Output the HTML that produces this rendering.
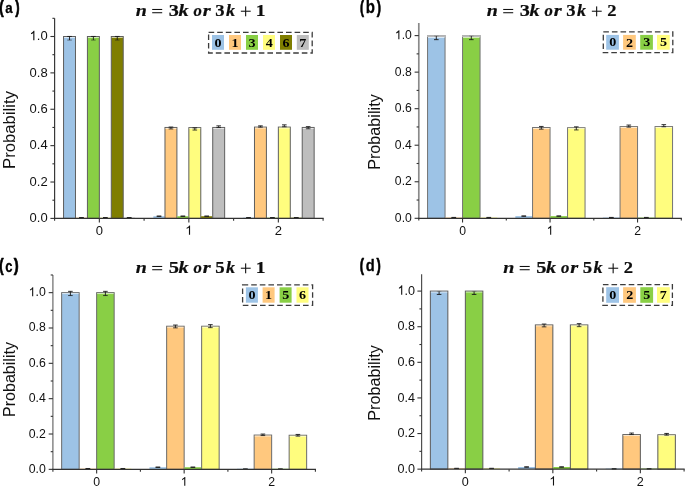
<!DOCTYPE html>
<html><head><meta charset="utf-8"><style>
html,body{margin:0;padding:0;background:#fff;}
body{width:685px;height:487px;overflow:hidden;}
svg{display:block;}
</style></head><body>
<svg width="685" height="487" viewBox="0 0 685 487">
<rect width="685" height="487" fill="#fff"/>
<rect x="63.55" y="36.5" width="11.93" height="181.9" fill="#9DC3E6" stroke="#5e5e5e" stroke-width="1"/>
<rect x="64.05" y="37" width="10.93" height="0.9" fill="#fff" fill-opacity="0.7"/>
<path d="M69.52 36.45V40.05" stroke="#1a1a1a" stroke-width="0.9" fill="none"/>
<path d="M67.22 36.45H71.82" stroke="#1a1a1a" stroke-opacity="1.0" stroke-width="0.9" fill="none"/>
<path d="M67.22 40.05H71.82" stroke="#1a1a1a" stroke-opacity="0.6" stroke-width="0.9" fill="none"/>
<rect x="75.78" y="217.67" width="11.33" height="0.73" fill="#FFC87E"/>
<path d="M81.45 217.52V217.82" stroke="#1a1a1a" stroke-width="0.9" fill="none"/>
<path d="M79.15 217.52H83.75" stroke="#1a1a1a" stroke-opacity="1.0" stroke-width="0.9" fill="none"/>
<path d="M79.15 217.82H83.75" stroke="#1a1a1a" stroke-opacity="1.0" stroke-width="0.9" fill="none"/>
<rect x="87.42" y="36.5" width="11.93" height="181.9" fill="#89CF45" stroke="#5e5e5e" stroke-width="1"/>
<rect x="87.92" y="37" width="10.93" height="0.9" fill="#fff" fill-opacity="0.7"/>
<path d="M93.38 36.45V40.05" stroke="#1a1a1a" stroke-width="0.9" fill="none"/>
<path d="M91.08 36.45H95.68" stroke="#1a1a1a" stroke-opacity="1.0" stroke-width="0.9" fill="none"/>
<path d="M91.08 40.05H95.68" stroke="#1a1a1a" stroke-opacity="0.6" stroke-width="0.9" fill="none"/>
<rect x="99.65" y="217.67" width="11.33" height="0.73" fill="#FFFD7E"/>
<path d="M105.32 217.52V217.82" stroke="#1a1a1a" stroke-width="0.9" fill="none"/>
<path d="M103.02 217.52H107.62" stroke="#1a1a1a" stroke-opacity="1.0" stroke-width="0.9" fill="none"/>
<path d="M103.02 217.82H107.62" stroke="#1a1a1a" stroke-opacity="1.0" stroke-width="0.9" fill="none"/>
<rect x="111.28" y="36.5" width="11.93" height="181.9" fill="#7F7E00" stroke="#5e5e5e" stroke-width="1"/>
<rect x="111.78" y="37" width="10.93" height="0.9" fill="#fff" fill-opacity="0.7"/>
<path d="M117.25 36.45V40.05" stroke="#1a1a1a" stroke-width="0.9" fill="none"/>
<path d="M114.95 36.45H119.55" stroke="#1a1a1a" stroke-opacity="1.0" stroke-width="0.9" fill="none"/>
<path d="M114.95 40.05H119.55" stroke="#1a1a1a" stroke-opacity="0.6" stroke-width="0.9" fill="none"/>
<rect x="123.52" y="217.67" width="11.33" height="0.73" fill="#BEBEBE"/>
<path d="M129.18 217.52V217.82" stroke="#1a1a1a" stroke-width="0.9" fill="none"/>
<path d="M126.88 217.52H131.48" stroke="#1a1a1a" stroke-opacity="1.0" stroke-width="0.9" fill="none"/>
<path d="M126.88 217.82H131.48" stroke="#1a1a1a" stroke-opacity="1.0" stroke-width="0.9" fill="none"/>
<rect x="153.35" y="216.22" width="11.33" height="2.18" fill="#9DC3E6"/>
<path d="M159.02 216.07V216.37" stroke="#1a1a1a" stroke-width="0.9" fill="none"/>
<path d="M156.72 216.07H161.32" stroke="#1a1a1a" stroke-opacity="1.0" stroke-width="0.9" fill="none"/>
<path d="M156.72 216.37H161.32" stroke="#1a1a1a" stroke-opacity="1.0" stroke-width="0.9" fill="none"/>
<rect x="164.98" y="127.45" width="11.93" height="90.95" fill="#FFC87E" stroke="#5e5e5e" stroke-width="1"/>
<rect x="165.48" y="127.95" width="10.93" height="0.9" fill="#fff" fill-opacity="0.7"/>
<path d="M170.95 127.05V128.95" stroke="#1a1a1a" stroke-width="0.9" fill="none"/>
<path d="M168.65 127.05H173.25" stroke="#1a1a1a" stroke-opacity="1.0" stroke-width="0.9" fill="none"/>
<path d="M168.65 128.95H173.25" stroke="#1a1a1a" stroke-opacity="0.9" stroke-width="0.9" fill="none"/>
<rect x="177.22" y="216.22" width="11.33" height="2.18" fill="#89CF45"/>
<path d="M182.88 216.07V216.37" stroke="#1a1a1a" stroke-width="0.9" fill="none"/>
<path d="M180.58 216.07H185.18" stroke="#1a1a1a" stroke-opacity="1.0" stroke-width="0.9" fill="none"/>
<path d="M180.58 216.37H185.18" stroke="#1a1a1a" stroke-opacity="1.0" stroke-width="0.9" fill="none"/>
<rect x="188.85" y="127.63" width="11.93" height="90.77" fill="#FFFD7E" stroke="#5e5e5e" stroke-width="1"/>
<rect x="189.35" y="128.13" width="10.93" height="0.9" fill="#fff" fill-opacity="0.7"/>
<path d="M194.82 127.85V130.05" stroke="#1a1a1a" stroke-width="0.9" fill="none"/>
<path d="M192.52 127.85H197.12" stroke="#1a1a1a" stroke-opacity="1.0" stroke-width="0.9" fill="none"/>
<path d="M192.52 130.05H197.12" stroke="#1a1a1a" stroke-opacity="0.9" stroke-width="0.9" fill="none"/>
<rect x="201.08" y="216.22" width="11.33" height="2.18" fill="#7F7E00"/>
<path d="M206.75 216.07V216.37" stroke="#1a1a1a" stroke-width="0.9" fill="none"/>
<path d="M204.45 216.07H209.05" stroke="#1a1a1a" stroke-opacity="1.0" stroke-width="0.9" fill="none"/>
<path d="M204.45 216.37H209.05" stroke="#1a1a1a" stroke-opacity="1.0" stroke-width="0.9" fill="none"/>
<rect x="212.72" y="127.45" width="11.93" height="90.95" fill="#BEBEBE" stroke="#5e5e5e" stroke-width="1"/>
<rect x="213.22" y="127.95" width="10.93" height="0.9" fill="#fff" fill-opacity="0.7"/>
<path d="M218.68 125.85V127.55" stroke="#1a1a1a" stroke-width="0.9" fill="none"/>
<path d="M216.38 125.85H220.98" stroke="#1a1a1a" stroke-opacity="1.0" stroke-width="0.9" fill="none"/>
<path d="M216.38 127.55H220.98" stroke="#1a1a1a" stroke-opacity="0.9" stroke-width="0.9" fill="none"/>
<rect x="242.85" y="217.67" width="11.33" height="0.73" fill="#9DC3E6"/>
<path d="M248.52 217.52V217.82" stroke="#1a1a1a" stroke-width="0.9" fill="none"/>
<path d="M246.22 217.52H250.82" stroke="#1a1a1a" stroke-opacity="1.0" stroke-width="0.9" fill="none"/>
<path d="M246.22 217.82H250.82" stroke="#1a1a1a" stroke-opacity="1.0" stroke-width="0.9" fill="none"/>
<rect x="254.48" y="127.09" width="11.93" height="91.31" fill="#FFC87E" stroke="#5e5e5e" stroke-width="1"/>
<rect x="254.98" y="127.59" width="10.93" height="0.9" fill="#fff" fill-opacity="0.7"/>
<path d="M260.45 125.85V127.15" stroke="#1a1a1a" stroke-width="0.9" fill="none"/>
<path d="M258.15 125.85H262.75" stroke="#1a1a1a" stroke-opacity="1.0" stroke-width="0.9" fill="none"/>
<path d="M258.15 127.15H262.75" stroke="#1a1a1a" stroke-opacity="0.9" stroke-width="0.9" fill="none"/>
<rect x="266.72" y="217.67" width="11.33" height="0.73" fill="#89CF45"/>
<path d="M272.38 217.52V217.82" stroke="#1a1a1a" stroke-width="0.9" fill="none"/>
<path d="M270.08 217.52H274.68" stroke="#1a1a1a" stroke-opacity="1.0" stroke-width="0.9" fill="none"/>
<path d="M270.08 217.82H274.68" stroke="#1a1a1a" stroke-opacity="1.0" stroke-width="0.9" fill="none"/>
<rect x="278.35" y="127.09" width="11.93" height="91.31" fill="#FFFD7E" stroke="#5e5e5e" stroke-width="1"/>
<rect x="278.85" y="127.59" width="10.93" height="0.9" fill="#fff" fill-opacity="0.7"/>
<path d="M284.32 124.85V126.75" stroke="#1a1a1a" stroke-width="0.9" fill="none"/>
<path d="M282.02 124.85H286.62" stroke="#1a1a1a" stroke-opacity="1.0" stroke-width="0.9" fill="none"/>
<path d="M282.02 126.75H286.62" stroke="#1a1a1a" stroke-opacity="0.9" stroke-width="0.9" fill="none"/>
<rect x="290.58" y="217.67" width="11.33" height="0.73" fill="#7F7E00"/>
<path d="M296.25 217.52V217.82" stroke="#1a1a1a" stroke-width="0.9" fill="none"/>
<path d="M293.95 217.52H298.55" stroke="#1a1a1a" stroke-opacity="1.0" stroke-width="0.9" fill="none"/>
<path d="M293.95 217.82H298.55" stroke="#1a1a1a" stroke-opacity="1.0" stroke-width="0.9" fill="none"/>
<rect x="302.22" y="127.45" width="11.93" height="90.95" fill="#BEBEBE" stroke="#5e5e5e" stroke-width="1"/>
<rect x="302.72" y="127.95" width="10.93" height="0.9" fill="#fff" fill-opacity="0.7"/>
<path d="M308.18 126.65V128.75" stroke="#1a1a1a" stroke-width="0.9" fill="none"/>
<path d="M305.88 126.65H310.48" stroke="#1a1a1a" stroke-opacity="1.0" stroke-width="0.9" fill="none"/>
<path d="M305.88 128.75H310.48" stroke="#1a1a1a" stroke-opacity="0.9" stroke-width="0.9" fill="none"/>
<path d="M54.6 18.2V218.4" stroke="#383838" stroke-width="1.2" fill="none"/>
<path d="M54 218.4H323.7" stroke="#333" stroke-width="1.2" fill="none"/>
<path d="M50.4 218.4H54.6" stroke="#333" stroke-width="1.1"/>
<path d="M52.4 200.21H54.6" stroke="#333" stroke-width="1.1"/>
<path d="M50.4 182.02H54.6" stroke="#333" stroke-width="1.1"/>
<path d="M52.4 163.83H54.6" stroke="#333" stroke-width="1.1"/>
<path d="M50.4 145.64H54.6" stroke="#333" stroke-width="1.1"/>
<path d="M52.4 127.45H54.6" stroke="#333" stroke-width="1.1"/>
<path d="M50.4 109.26H54.6" stroke="#333" stroke-width="1.1"/>
<path d="M52.4 91.07H54.6" stroke="#333" stroke-width="1.1"/>
<path d="M50.4 72.88H54.6" stroke="#333" stroke-width="1.1"/>
<path d="M52.4 54.69H54.6" stroke="#333" stroke-width="1.1"/>
<path d="M50.4 36.5H54.6" stroke="#333" stroke-width="1.1"/>
<path d="M52.4 18.31H54.6" stroke="#333" stroke-width="1.1"/>
<path d="M99.35 218.4V222.6" stroke="#333" stroke-width="1.1"/>
<path d="M188.85 218.4V222.6" stroke="#333" stroke-width="1.1"/>
<path d="M278.35 218.4V222.6" stroke="#333" stroke-width="1.1"/>
<path d="M54.6 218.4V220.7" stroke="#333" stroke-width="1.1"/>
<path d="M144.1 218.4V220.7" stroke="#333" stroke-width="1.1"/>
<path d="M233.6 218.4V220.7" stroke="#333" stroke-width="1.1"/>
<path d="M323.1 218.4V220.7" stroke="#333" stroke-width="1.1"/>
<rect x="208.6" y="32.4" width="103.6" height="20.6" fill="none" stroke="#3c3c3c" stroke-width="1.3" stroke-dasharray="5.6 3"/>
<rect x="212" y="35" width="12" height="14.8" fill="#9DC3E6"/>
<rect x="229" y="35" width="12" height="14.8" fill="#FFC87E"/>
<rect x="246" y="35" width="12" height="14.8" fill="#89CF45"/>
<rect x="263" y="35" width="12" height="14.8" fill="#FFFD7E"/>
<rect x="280" y="35" width="12" height="14.8" fill="#7F7E00"/>
<rect x="296.8" y="35" width="12" height="14.8" fill="#BEBEBE"/>
<rect x="427.55" y="35.6" width="17.5" height="182.7" fill="#9DC3E6" stroke="#747474" stroke-width="1"/>
<rect x="427.05" y="35.1" width="18.5" height="1.9" fill="#b9b9b9"/>
<rect x="428.05" y="37" width="16.5" height="0.9" fill="#fff" fill-opacity="0.7"/>
<path d="M436.3 36.05V39.65" stroke="#1a1a1a" stroke-width="0.9" fill="none"/>
<path d="M434 36.05H438.6" stroke="#1a1a1a" stroke-opacity="0.25" stroke-width="0.9" fill="none"/>
<path d="M434 39.65H438.6" stroke="#1a1a1a" stroke-opacity="1.0" stroke-width="0.9" fill="none"/>
<rect x="445.35" y="217.57" width="16.9" height="0.73" fill="#FFC87E"/>
<path d="M453.8 217.42V217.72" stroke="#1a1a1a" stroke-width="0.9" fill="none"/>
<path d="M451.5 217.42H456.1" stroke="#1a1a1a" stroke-opacity="1.0" stroke-width="0.9" fill="none"/>
<path d="M451.5 217.72H456.1" stroke="#1a1a1a" stroke-opacity="1.0" stroke-width="0.9" fill="none"/>
<rect x="462.55" y="35.6" width="17.5" height="182.7" fill="#89CF45" stroke="#747474" stroke-width="1"/>
<rect x="462.05" y="35.1" width="18.5" height="1.9" fill="#b9b9b9"/>
<rect x="463.05" y="37" width="16.5" height="0.9" fill="#fff" fill-opacity="0.7"/>
<path d="M471.3 36.05V39.65" stroke="#1a1a1a" stroke-width="0.9" fill="none"/>
<path d="M469 36.05H473.6" stroke="#1a1a1a" stroke-opacity="0.25" stroke-width="0.9" fill="none"/>
<path d="M469 39.65H473.6" stroke="#1a1a1a" stroke-opacity="1.0" stroke-width="0.9" fill="none"/>
<rect x="480.35" y="217.57" width="16.9" height="0.73" fill="#FFFD7E"/>
<path d="M488.8 217.42V217.72" stroke="#1a1a1a" stroke-width="0.9" fill="none"/>
<path d="M486.5 217.42H491.1" stroke="#1a1a1a" stroke-opacity="1.0" stroke-width="0.9" fill="none"/>
<path d="M486.5 217.72H491.1" stroke="#1a1a1a" stroke-opacity="1.0" stroke-width="0.9" fill="none"/>
<rect x="515.35" y="216.11" width="16.9" height="2.19" fill="#9DC3E6"/>
<path d="M523.8 215.96V216.26" stroke="#1a1a1a" stroke-width="0.9" fill="none"/>
<path d="M521.5 215.96H526.1" stroke="#1a1a1a" stroke-opacity="1.0" stroke-width="0.9" fill="none"/>
<path d="M521.5 216.26H526.1" stroke="#1a1a1a" stroke-opacity="1.0" stroke-width="0.9" fill="none"/>
<rect x="532.55" y="127.5" width="17.5" height="90.8" fill="#FFC87E" stroke="#747474" stroke-width="1"/>
<rect x="533.05" y="128" width="16.5" height="0.9" fill="#fff" fill-opacity="0.7"/>
<path d="M541.3 126.45V129.15" stroke="#1a1a1a" stroke-width="0.9" fill="none"/>
<path d="M539 126.45H543.6" stroke="#1a1a1a" stroke-opacity="1.0" stroke-width="0.9" fill="none"/>
<path d="M539 129.15H543.6" stroke="#1a1a1a" stroke-opacity="0.9" stroke-width="0.9" fill="none"/>
<rect x="550.35" y="216.11" width="16.9" height="2.19" fill="#89CF45"/>
<path d="M558.8 215.96V216.26" stroke="#1a1a1a" stroke-width="0.9" fill="none"/>
<path d="M556.5 215.96H561.1" stroke="#1a1a1a" stroke-opacity="1.0" stroke-width="0.9" fill="none"/>
<path d="M556.5 216.26H561.1" stroke="#1a1a1a" stroke-opacity="1.0" stroke-width="0.9" fill="none"/>
<rect x="567.55" y="127.68" width="17.5" height="90.62" fill="#FFFD7E" stroke="#747474" stroke-width="1"/>
<rect x="568.05" y="128.18" width="16.5" height="0.9" fill="#fff" fill-opacity="0.7"/>
<path d="M576.3 126.85V129.95" stroke="#1a1a1a" stroke-width="0.9" fill="none"/>
<path d="M574 126.85H578.6" stroke="#1a1a1a" stroke-opacity="1.0" stroke-width="0.9" fill="none"/>
<path d="M574 129.95H578.6" stroke="#1a1a1a" stroke-opacity="0.9" stroke-width="0.9" fill="none"/>
<rect x="602.85" y="217.57" width="16.9" height="0.73" fill="#9DC3E6"/>
<path d="M611.3 217.42V217.72" stroke="#1a1a1a" stroke-width="0.9" fill="none"/>
<path d="M609 217.42H613.6" stroke="#1a1a1a" stroke-opacity="1.0" stroke-width="0.9" fill="none"/>
<path d="M609 217.72H613.6" stroke="#1a1a1a" stroke-opacity="1.0" stroke-width="0.9" fill="none"/>
<rect x="620.05" y="126.58" width="17.5" height="91.72" fill="#FFC87E" stroke="#747474" stroke-width="1"/>
<rect x="620.55" y="127.08" width="16.5" height="0.9" fill="#fff" fill-opacity="0.7"/>
<path d="M628.8 125.05V127.15" stroke="#1a1a1a" stroke-width="0.9" fill="none"/>
<path d="M626.5 125.05H631.1" stroke="#1a1a1a" stroke-opacity="1.0" stroke-width="0.9" fill="none"/>
<path d="M626.5 127.15H631.1" stroke="#1a1a1a" stroke-opacity="0.9" stroke-width="0.9" fill="none"/>
<rect x="637.85" y="217.57" width="16.9" height="0.73" fill="#89CF45"/>
<path d="M646.3 217.42V217.72" stroke="#1a1a1a" stroke-width="0.9" fill="none"/>
<path d="M644 217.42H648.6" stroke="#1a1a1a" stroke-opacity="1.0" stroke-width="0.9" fill="none"/>
<path d="M644 217.72H648.6" stroke="#1a1a1a" stroke-opacity="1.0" stroke-width="0.9" fill="none"/>
<rect x="655.05" y="126.58" width="17.5" height="91.72" fill="#FFFD7E" stroke="#747474" stroke-width="1"/>
<rect x="655.55" y="127.08" width="16.5" height="0.9" fill="#fff" fill-opacity="0.7"/>
<path d="M663.8 124.65V126.75" stroke="#1a1a1a" stroke-width="0.9" fill="none"/>
<path d="M661.5 124.65H666.1" stroke="#1a1a1a" stroke-opacity="1.0" stroke-width="0.9" fill="none"/>
<path d="M661.5 126.75H666.1" stroke="#1a1a1a" stroke-opacity="0.9" stroke-width="0.9" fill="none"/>
<path d="M418.8 23V218.3" stroke="#8a8a8a" stroke-width="1.7" fill="none"/>
<path d="M418.2 218.3H681.9" stroke="#333" stroke-width="1.2" fill="none"/>
<path d="M414.6 218.3H418.8" stroke="#333" stroke-width="1.1"/>
<path d="M416.6 200.03H418.8" stroke="#333" stroke-width="1.1"/>
<path d="M414.6 181.76H418.8" stroke="#333" stroke-width="1.1"/>
<path d="M416.6 163.49H418.8" stroke="#333" stroke-width="1.1"/>
<path d="M414.6 145.22H418.8" stroke="#333" stroke-width="1.1"/>
<path d="M416.6 126.95H418.8" stroke="#333" stroke-width="1.1"/>
<path d="M414.6 108.68H418.8" stroke="#333" stroke-width="1.1"/>
<path d="M416.6 90.41H418.8" stroke="#333" stroke-width="1.1"/>
<path d="M414.6 72.14H418.8" stroke="#333" stroke-width="1.1"/>
<path d="M416.6 53.87H418.8" stroke="#333" stroke-width="1.1"/>
<path d="M414.6 35.6H418.8" stroke="#333" stroke-width="1.1"/>
<path d="M462.55 218.3V222.5" stroke="#333" stroke-width="1.1"/>
<path d="M550.05 218.3V222.5" stroke="#333" stroke-width="1.1"/>
<path d="M637.55 218.3V222.5" stroke="#333" stroke-width="1.1"/>
<path d="M418.8 218.3V220.6" stroke="#333" stroke-width="1.1"/>
<path d="M506.3 218.3V220.6" stroke="#333" stroke-width="1.1"/>
<path d="M593.8 218.3V220.6" stroke="#333" stroke-width="1.1"/>
<path d="M681.3 218.3V220.6" stroke="#333" stroke-width="1.1"/>
<rect x="603.3" y="31.8" width="69.5" height="20.8" fill="none" stroke="#3c3c3c" stroke-width="1.3" stroke-dasharray="5.6 3"/>
<rect x="606.2" y="34.9" width="12.7" height="14.8" fill="#9DC3E6"/>
<rect x="623.1" y="34.9" width="12.7" height="14.8" fill="#FFC87E"/>
<rect x="640.2" y="34.9" width="12.7" height="14.8" fill="#89CF45"/>
<rect x="657" y="34.9" width="12.7" height="14.8" fill="#FFFD7E"/>
<rect x="61.65" y="292.65" width="17.5" height="176.7" fill="#9DC3E6" stroke="#6a6a6a" stroke-width="1"/>
<rect x="62.15" y="293.15" width="16.5" height="0.9" fill="#fff" fill-opacity="0.7"/>
<path d="M70.4 291.35V295.55" stroke="#1a1a1a" stroke-width="0.9" fill="none"/>
<path d="M68.1 291.35H72.7" stroke="#1a1a1a" stroke-opacity="1.0" stroke-width="0.9" fill="none"/>
<path d="M68.1 295.55H72.7" stroke="#1a1a1a" stroke-opacity="0.9" stroke-width="0.9" fill="none"/>
<rect x="79.45" y="468.64" width="16.9" height="0.71" fill="#FFC87E"/>
<path d="M87.9 468.49V468.79" stroke="#1a1a1a" stroke-width="0.9" fill="none"/>
<path d="M85.6 468.49H90.2" stroke="#1a1a1a" stroke-opacity="1.0" stroke-width="0.9" fill="none"/>
<path d="M85.6 468.79H90.2" stroke="#1a1a1a" stroke-opacity="1.0" stroke-width="0.9" fill="none"/>
<rect x="96.65" y="292.65" width="17.5" height="176.7" fill="#89CF45" stroke="#6a6a6a" stroke-width="1"/>
<rect x="97.15" y="293.15" width="16.5" height="0.9" fill="#fff" fill-opacity="0.7"/>
<path d="M105.4 291.35V295.55" stroke="#1a1a1a" stroke-width="0.9" fill="none"/>
<path d="M103.1 291.35H107.7" stroke="#1a1a1a" stroke-opacity="1.0" stroke-width="0.9" fill="none"/>
<path d="M103.1 295.55H107.7" stroke="#1a1a1a" stroke-opacity="0.9" stroke-width="0.9" fill="none"/>
<rect x="114.45" y="468.64" width="16.9" height="0.71" fill="#FFFD7E"/>
<path d="M122.9 468.49V468.79" stroke="#1a1a1a" stroke-width="0.9" fill="none"/>
<path d="M120.6 468.49H125.2" stroke="#1a1a1a" stroke-opacity="1.0" stroke-width="0.9" fill="none"/>
<path d="M120.6 468.79H125.2" stroke="#1a1a1a" stroke-opacity="1.0" stroke-width="0.9" fill="none"/>
<rect x="149.45" y="467.23" width="16.9" height="2.12" fill="#9DC3E6"/>
<path d="M157.9 467.08V467.38" stroke="#1a1a1a" stroke-width="0.9" fill="none"/>
<path d="M155.6 467.08H160.2" stroke="#1a1a1a" stroke-opacity="1.0" stroke-width="0.9" fill="none"/>
<path d="M155.6 467.38H160.2" stroke="#1a1a1a" stroke-opacity="1.0" stroke-width="0.9" fill="none"/>
<rect x="166.65" y="326.22" width="17.5" height="143.13" fill="#FFC87E" stroke="#6a6a6a" stroke-width="1"/>
<rect x="167.15" y="326.72" width="16.5" height="0.9" fill="#fff" fill-opacity="0.7"/>
<path d="M175.4 325.05V327.85" stroke="#1a1a1a" stroke-width="0.9" fill="none"/>
<path d="M173.1 325.05H177.7" stroke="#1a1a1a" stroke-opacity="1.0" stroke-width="0.9" fill="none"/>
<path d="M173.1 327.85H177.7" stroke="#1a1a1a" stroke-opacity="0.9" stroke-width="0.9" fill="none"/>
<rect x="184.45" y="467.23" width="16.9" height="2.12" fill="#89CF45"/>
<path d="M192.9 467.08V467.38" stroke="#1a1a1a" stroke-width="0.9" fill="none"/>
<path d="M190.6 467.08H195.2" stroke="#1a1a1a" stroke-opacity="1.0" stroke-width="0.9" fill="none"/>
<path d="M190.6 467.38H195.2" stroke="#1a1a1a" stroke-opacity="1.0" stroke-width="0.9" fill="none"/>
<rect x="201.65" y="326.22" width="17.5" height="143.13" fill="#FFFD7E" stroke="#6a6a6a" stroke-width="1"/>
<rect x="202.15" y="326.72" width="16.5" height="0.9" fill="#fff" fill-opacity="0.7"/>
<path d="M210.4 324.65V327.65" stroke="#1a1a1a" stroke-width="0.9" fill="none"/>
<path d="M208.1 324.65H212.7" stroke="#1a1a1a" stroke-opacity="1.0" stroke-width="0.9" fill="none"/>
<path d="M208.1 327.65H212.7" stroke="#1a1a1a" stroke-opacity="0.9" stroke-width="0.9" fill="none"/>
<rect x="236.95" y="468.75" width="16.9" height="0.6" fill="#9DC3E6"/>
<path d="M245.4 468.93V469.23" stroke="#1a1a1a" stroke-width="0.9" fill="none"/>
<path d="M243.1 468.93H247.7" stroke="#1a1a1a" stroke-opacity="1.0" stroke-width="0.9" fill="none"/>
<path d="M243.1 469.23H247.7" stroke="#1a1a1a" stroke-opacity="1.0" stroke-width="0.9" fill="none"/>
<rect x="254.15" y="435.07" width="17.5" height="34.28" fill="#FFC87E" stroke="#6a6a6a" stroke-width="1"/>
<rect x="254.65" y="435.57" width="16.5" height="0.9" fill="#fff" fill-opacity="0.7"/>
<path d="M262.9 434.05V435.55" stroke="#1a1a1a" stroke-width="0.9" fill="none"/>
<path d="M260.6 434.05H265.2" stroke="#1a1a1a" stroke-opacity="1.0" stroke-width="0.9" fill="none"/>
<path d="M260.6 435.55H265.2" stroke="#1a1a1a" stroke-opacity="0.9" stroke-width="0.9" fill="none"/>
<rect x="271.95" y="468.75" width="16.9" height="0.6" fill="#89CF45"/>
<path d="M280.4 468.93V469.23" stroke="#1a1a1a" stroke-width="0.9" fill="none"/>
<path d="M278.1 468.93H282.7" stroke="#1a1a1a" stroke-opacity="1.0" stroke-width="0.9" fill="none"/>
<path d="M278.1 469.23H282.7" stroke="#1a1a1a" stroke-opacity="1.0" stroke-width="0.9" fill="none"/>
<rect x="289.15" y="435.25" width="17.5" height="34.1" fill="#FFFD7E" stroke="#6a6a6a" stroke-width="1"/>
<rect x="289.65" y="435.75" width="16.5" height="0.9" fill="#fff" fill-opacity="0.7"/>
<path d="M297.9 434.45V436.15" stroke="#1a1a1a" stroke-width="0.9" fill="none"/>
<path d="M295.6 434.45H300.2" stroke="#1a1a1a" stroke-opacity="1.0" stroke-width="0.9" fill="none"/>
<path d="M295.6 436.15H300.2" stroke="#1a1a1a" stroke-opacity="0.9" stroke-width="0.9" fill="none"/>
<path d="M52.9 275V469.35" stroke="#6a6a6a" stroke-width="1.2" fill="none"/>
<path d="M52.3 469.35H316" stroke="#333" stroke-width="1.2" fill="none"/>
<path d="M48.7 469.35H52.9" stroke="#333" stroke-width="1.1"/>
<path d="M50.7 451.68H52.9" stroke="#333" stroke-width="1.1"/>
<path d="M48.7 434.01H52.9" stroke="#333" stroke-width="1.1"/>
<path d="M50.7 416.34H52.9" stroke="#333" stroke-width="1.1"/>
<path d="M48.7 398.67H52.9" stroke="#333" stroke-width="1.1"/>
<path d="M50.7 381H52.9" stroke="#333" stroke-width="1.1"/>
<path d="M48.7 363.33H52.9" stroke="#333" stroke-width="1.1"/>
<path d="M50.7 345.66H52.9" stroke="#333" stroke-width="1.1"/>
<path d="M48.7 327.99H52.9" stroke="#333" stroke-width="1.1"/>
<path d="M50.7 310.32H52.9" stroke="#333" stroke-width="1.1"/>
<path d="M48.7 292.65H52.9" stroke="#333" stroke-width="1.1"/>
<path d="M50.7 274.98H52.9" stroke="#333" stroke-width="1.1"/>
<path d="M96.65 469.35V473.55" stroke="#333" stroke-width="1.1"/>
<path d="M184.15 469.35V473.55" stroke="#333" stroke-width="1.1"/>
<path d="M271.65 469.35V473.55" stroke="#333" stroke-width="1.1"/>
<path d="M52.9 469.35V471.65" stroke="#333" stroke-width="1.1"/>
<path d="M140.4 469.35V471.65" stroke="#333" stroke-width="1.1"/>
<path d="M227.9 469.35V471.65" stroke="#333" stroke-width="1.1"/>
<path d="M315.4 469.35V471.65" stroke="#333" stroke-width="1.1"/>
<rect x="242.6" y="284.8" width="70" height="20.6" fill="none" stroke="#3c3c3c" stroke-width="1.3" stroke-dasharray="5.6 3"/>
<rect x="245.9" y="287.3" width="12" height="15.4" fill="#9DC3E6"/>
<rect x="262.6" y="287.3" width="12" height="15.4" fill="#FFC87E"/>
<rect x="279.6" y="287.3" width="12" height="15.4" fill="#89CF45"/>
<rect x="296.5" y="287.3" width="12" height="15.4" fill="#FFFD7E"/>
<rect x="430.35" y="291.1" width="17.5" height="178.05" fill="#9DC3E6" stroke="#5a5a5a" stroke-width="1"/>
<rect x="430.85" y="291.6" width="16.5" height="0.9" fill="#fff" fill-opacity="0.7"/>
<path d="M439.1 291.45V294.45" stroke="#1a1a1a" stroke-width="0.9" fill="none"/>
<path d="M436.8 291.45H441.4" stroke="#1a1a1a" stroke-opacity="0.25" stroke-width="0.9" fill="none"/>
<path d="M436.8 294.45H441.4" stroke="#1a1a1a" stroke-opacity="1.0" stroke-width="0.9" fill="none"/>
<rect x="448.15" y="468.44" width="16.9" height="0.71" fill="#FFC87E"/>
<path d="M456.6 468.29V468.59" stroke="#1a1a1a" stroke-width="0.9" fill="none"/>
<path d="M454.3 468.29H458.9" stroke="#1a1a1a" stroke-opacity="1.0" stroke-width="0.9" fill="none"/>
<path d="M454.3 468.59H458.9" stroke="#1a1a1a" stroke-opacity="1.0" stroke-width="0.9" fill="none"/>
<rect x="465.35" y="291.1" width="17.5" height="178.05" fill="#89CF45" stroke="#5a5a5a" stroke-width="1"/>
<rect x="465.85" y="291.6" width="16.5" height="0.9" fill="#fff" fill-opacity="0.7"/>
<path d="M474.1 291.45V294.45" stroke="#1a1a1a" stroke-width="0.9" fill="none"/>
<path d="M471.8 291.45H476.4" stroke="#1a1a1a" stroke-opacity="0.25" stroke-width="0.9" fill="none"/>
<path d="M471.8 294.45H476.4" stroke="#1a1a1a" stroke-opacity="1.0" stroke-width="0.9" fill="none"/>
<rect x="483.15" y="468.44" width="16.9" height="0.71" fill="#FFFD7E"/>
<path d="M491.6 468.29V468.59" stroke="#1a1a1a" stroke-width="0.9" fill="none"/>
<path d="M489.3 468.29H493.9" stroke="#1a1a1a" stroke-opacity="1.0" stroke-width="0.9" fill="none"/>
<path d="M489.3 468.59H493.9" stroke="#1a1a1a" stroke-opacity="1.0" stroke-width="0.9" fill="none"/>
<rect x="518.15" y="467.01" width="16.9" height="2.14" fill="#9DC3E6"/>
<path d="M526.6 466.86V467.16" stroke="#1a1a1a" stroke-width="0.9" fill="none"/>
<path d="M524.3 466.86H528.9" stroke="#1a1a1a" stroke-opacity="1.0" stroke-width="0.9" fill="none"/>
<path d="M524.3 467.16H528.9" stroke="#1a1a1a" stroke-opacity="1.0" stroke-width="0.9" fill="none"/>
<rect x="535.35" y="324.93" width="17.5" height="144.22" fill="#FFC87E" stroke="#5a5a5a" stroke-width="1"/>
<rect x="535.85" y="325.43" width="16.5" height="0.9" fill="#fff" fill-opacity="0.7"/>
<path d="M544.1 324.05V326.85" stroke="#1a1a1a" stroke-width="0.9" fill="none"/>
<path d="M541.8 324.05H546.4" stroke="#1a1a1a" stroke-opacity="1.0" stroke-width="0.9" fill="none"/>
<path d="M541.8 326.85H546.4" stroke="#1a1a1a" stroke-opacity="0.9" stroke-width="0.9" fill="none"/>
<rect x="553.15" y="467.01" width="16.9" height="2.14" fill="#89CF45"/>
<path d="M561.6 466.86V467.16" stroke="#1a1a1a" stroke-width="0.9" fill="none"/>
<path d="M559.3 466.86H563.9" stroke="#1a1a1a" stroke-opacity="1.0" stroke-width="0.9" fill="none"/>
<path d="M559.3 467.16H563.9" stroke="#1a1a1a" stroke-opacity="1.0" stroke-width="0.9" fill="none"/>
<rect x="570.35" y="324.93" width="17.5" height="144.22" fill="#FFFD7E" stroke="#5a5a5a" stroke-width="1"/>
<rect x="570.85" y="325.43" width="16.5" height="0.9" fill="#fff" fill-opacity="0.7"/>
<path d="M579.1 323.65V326.65" stroke="#1a1a1a" stroke-width="0.9" fill="none"/>
<path d="M576.8 323.65H581.4" stroke="#1a1a1a" stroke-opacity="1.0" stroke-width="0.9" fill="none"/>
<path d="M576.8 326.65H581.4" stroke="#1a1a1a" stroke-opacity="0.9" stroke-width="0.9" fill="none"/>
<rect x="605.65" y="468.55" width="16.9" height="0.6" fill="#9DC3E6"/>
<path d="M614.1 468.73V469.03" stroke="#1a1a1a" stroke-width="0.9" fill="none"/>
<path d="M611.8 468.73H616.4" stroke="#1a1a1a" stroke-opacity="1.0" stroke-width="0.9" fill="none"/>
<path d="M611.8 469.03H616.4" stroke="#1a1a1a" stroke-opacity="1.0" stroke-width="0.9" fill="none"/>
<rect x="622.85" y="434.61" width="17.5" height="34.54" fill="#FFC87E" stroke="#5a5a5a" stroke-width="1"/>
<rect x="623.35" y="435.11" width="16.5" height="0.9" fill="#fff" fill-opacity="0.7"/>
<path d="M631.6 433.05V434.55" stroke="#1a1a1a" stroke-width="0.9" fill="none"/>
<path d="M629.3 433.05H633.9" stroke="#1a1a1a" stroke-opacity="1.0" stroke-width="0.9" fill="none"/>
<path d="M629.3 434.55H633.9" stroke="#1a1a1a" stroke-opacity="0.9" stroke-width="0.9" fill="none"/>
<rect x="640.65" y="468.55" width="16.9" height="0.6" fill="#89CF45"/>
<path d="M649.1 468.73V469.03" stroke="#1a1a1a" stroke-width="0.9" fill="none"/>
<path d="M646.8 468.73H651.4" stroke="#1a1a1a" stroke-opacity="1.0" stroke-width="0.9" fill="none"/>
<path d="M646.8 469.03H651.4" stroke="#1a1a1a" stroke-opacity="1.0" stroke-width="0.9" fill="none"/>
<rect x="657.85" y="434.79" width="17.5" height="34.36" fill="#FFFD7E" stroke="#5a5a5a" stroke-width="1"/>
<rect x="658.35" y="435.29" width="16.5" height="0.9" fill="#fff" fill-opacity="0.7"/>
<path d="M666.6 433.45V435.15" stroke="#1a1a1a" stroke-width="0.9" fill="none"/>
<path d="M664.3 433.45H668.9" stroke="#1a1a1a" stroke-opacity="1.0" stroke-width="0.9" fill="none"/>
<path d="M664.3 435.15H668.9" stroke="#1a1a1a" stroke-opacity="0.9" stroke-width="0.9" fill="none"/>
<path d="M421.6 274.2V469.15" stroke="#505050" stroke-width="1.2" fill="none"/>
<path d="M421 469.15H684.7" stroke="#333" stroke-width="1.2" fill="none"/>
<path d="M417.4 469.15H421.6" stroke="#333" stroke-width="1.1"/>
<path d="M419.4 451.34H421.6" stroke="#333" stroke-width="1.1"/>
<path d="M417.4 433.54H421.6" stroke="#333" stroke-width="1.1"/>
<path d="M419.4 415.73H421.6" stroke="#333" stroke-width="1.1"/>
<path d="M417.4 397.93H421.6" stroke="#333" stroke-width="1.1"/>
<path d="M419.4 380.12H421.6" stroke="#333" stroke-width="1.1"/>
<path d="M417.4 362.32H421.6" stroke="#333" stroke-width="1.1"/>
<path d="M419.4 344.51H421.6" stroke="#333" stroke-width="1.1"/>
<path d="M417.4 326.71H421.6" stroke="#333" stroke-width="1.1"/>
<path d="M419.4 308.9H421.6" stroke="#333" stroke-width="1.1"/>
<path d="M417.4 291.1H421.6" stroke="#333" stroke-width="1.1"/>
<path d="M465.35 469.15V473.35" stroke="#333" stroke-width="1.1"/>
<path d="M552.85 469.15V473.35" stroke="#333" stroke-width="1.1"/>
<path d="M640.35 469.15V473.35" stroke="#333" stroke-width="1.1"/>
<path d="M421.6 469.15V471.45" stroke="#333" stroke-width="1.1"/>
<path d="M509.1 469.15V471.45" stroke="#333" stroke-width="1.1"/>
<path d="M596.6 469.15V471.45" stroke="#333" stroke-width="1.1"/>
<path d="M684.1 469.15V471.45" stroke="#333" stroke-width="1.1"/>
<rect x="602.9" y="284.6" width="69.5" height="20.8" fill="none" stroke="#3c3c3c" stroke-width="1.3" stroke-dasharray="5.6 3"/>
<rect x="606.2" y="287.2" width="12.8" height="15.6" fill="#9DC3E6"/>
<rect x="623.1" y="287.2" width="12.8" height="15.6" fill="#FFC87E"/>
<rect x="640.3" y="287.2" width="12.8" height="15.6" fill="#89CF45"/>
<rect x="657" y="287.2" width="12.8" height="15.6" fill="#FFFD7E"/>
<g style="filter:grayscale(1)">
<text transform="translate(29.56 222.1) scale(1 1)" font-family='"Liberation Sans", sans-serif' font-size="13" fill="#111">0.0</text>
<text transform="translate(29.56 185.72) scale(1 1)" font-family='"Liberation Sans", sans-serif' font-size="13" fill="#111">0.2</text>
<text transform="translate(29.56 149.34) scale(1 1)" font-family='"Liberation Sans", sans-serif' font-size="13" fill="#111">0.4</text>
<text transform="translate(29.56 112.96) scale(1 1)" font-family='"Liberation Sans", sans-serif' font-size="13" fill="#111">0.6</text>
<text transform="translate(29.56 76.58) scale(1 1)" font-family='"Liberation Sans", sans-serif' font-size="13" fill="#111">0.8</text>
<path transform="translate(29.56 40.2) scale(0.006348 -0.006348)" d="M763 0H583V1147C540 1106 484 1065 415 1024C346 983 282 952 223 930V1104C323 1151 411 1208 487 1276C563 1344 616 1409 647 1472H763Z" fill="#111"/>
<text transform="translate(36.79 40.2) scale(1 1)" font-family='"Liberation Sans", sans-serif' font-size="13" fill="#111">.0</text>
<text transform="translate(95.74 234.8) scale(1 1)" font-family='"Liberation Sans", sans-serif' font-size="13" fill="#111">0</text>
<path transform="translate(185.24 234.8) scale(0.006348 -0.006348)" d="M763 0H583V1147C540 1106 484 1065 415 1024C346 983 282 952 223 930V1104C323 1151 411 1208 487 1276C563 1344 616 1409 647 1472H763Z" fill="#111"/>
<text transform="translate(274.74 234.8) scale(1 1)" font-family='"Liberation Sans", sans-serif' font-size="13" fill="#111">2</text>
<text transform="translate(14.6 167.6) rotate(-90) scale(1.0183 1)" x="-1.34" font-family='"Liberation Sans", sans-serif' font-size="16.4" fill="#111">Probability</text>
<text transform="translate(-0.77 12.6) scale(0.13464 0.18077)" font-family='"Liberation Sans", sans-serif' font-size="100" font-weight="bold" font-style="normal" fill="#000" stroke="#000" stroke-width="3.8" stroke-linejoin="round">(</text>
<text transform="translate(15.34 12.6) scale(0.13110 0.18077)" font-family='"Liberation Sans", sans-serif' font-size="100" font-weight="bold" font-style="normal" fill="#000" stroke="#000" stroke-width="3.85" stroke-linejoin="round">)</text>
<text transform="translate(5.36 12.5) scale(0.13316 0.14968)" font-family='"Liberation Sans", sans-serif' font-size="100" font-weight="bold" font-style="normal" fill="#000" stroke="#000" stroke-width="1.77" stroke-linejoin="round">a</text>
<text transform="translate(135.64 15.65) scale(0.19925 0.17084)" font-family='"Liberation Serif", serif' font-size="100" font-weight="bold" font-style="italic" fill="#0d0d0d" stroke="#0d0d0d" stroke-width="1.19" stroke-linejoin="round">n</text>
<text transform="translate(168.79 15.64) scale(0.20200 0.16149)" font-family='"Liberation Serif", serif' font-size="100" font-weight="bold" font-style="normal" fill="#0d0d0d" stroke="#0d0d0d" stroke-width="1.21" stroke-linejoin="round">3</text>
<text transform="translate(178.57 15.65) scale(0.20376 0.16646)" font-family='"Liberation Serif", serif' font-size="100" font-weight="bold" font-style="italic" fill="#0d0d0d" stroke="#0d0d0d" stroke-width="1.19" stroke-linejoin="round">k</text>
<text transform="translate(193.49 15.63) scale(0.16659 0.17257)" font-family='"Liberation Serif", serif' font-size="100" font-weight="bold" font-style="italic" fill="#0d0d0d" stroke="#0d0d0d" stroke-width="1.3" stroke-linejoin="round">o</text>
<text transform="translate(202.78 15.65) scale(0.20480 0.17084)" font-family='"Liberation Serif", serif' font-size="100" font-weight="bold" font-style="italic" fill="#0d0d0d" stroke="#0d0d0d" stroke-width="1.17" stroke-linejoin="round">r</text>
<text transform="translate(215.35 15.64) scale(0.18565 0.16149)" font-family='"Liberation Serif", serif' font-size="100" font-weight="bold" font-style="normal" fill="#0d0d0d" stroke="#0d0d0d" stroke-width="1.27" stroke-linejoin="round">3</text>
<text transform="translate(225.9 15.65) scale(0.18181 0.16646)" font-family='"Liberation Serif", serif' font-size="100" font-weight="bold" font-style="italic" fill="#0d0d0d" stroke="#0d0d0d" stroke-width="1.26" stroke-linejoin="round">k</text>
<text transform="translate(255.83 15.65) scale(0.19556 0.16814)" font-family='"Liberation Serif", serif' font-size="100" font-weight="bold" font-style="normal" fill="#0d0d0d" stroke="#0d0d0d" stroke-width="1.21" stroke-linejoin="round">1</text>
<rect x="152.2" y="8.95" width="10" height="1.05" fill="#111"/>
<rect x="152.2" y="12.2" width="10" height="1.05" fill="#111"/>
<rect x="240.85" y="10.7" width="9.85" height="1.05" fill="#111"/>
<rect x="245.1" y="6.4" width="1.1" height="9.9" fill="#111"/>
<text transform="translate(214.62 46.58) scale(0.14100 0.12300)" font-family='"Liberation Serif", serif' font-size="100" font-weight="bold" font-style="normal" fill="#000">0</text>
<text transform="translate(231.43 46.61) scale(0.14100 0.12300)" font-family='"Liberation Serif", serif' font-size="100" font-weight="bold" font-style="normal" fill="#000">1</text>
<text transform="translate(248.6 46.56) scale(0.14100 0.12300)" font-family='"Liberation Serif", serif' font-size="100" font-weight="bold" font-style="normal" fill="#000">3</text>
<text transform="translate(265.66 46.6) scale(0.14100 0.12300)" font-family='"Liberation Serif", serif' font-size="100" font-weight="bold" font-style="normal" fill="#000">4</text>
<text transform="translate(282.59 46.56) scale(0.14100 0.12300)" font-family='"Liberation Serif", serif' font-size="100" font-weight="bold" font-style="normal" fill="#000">6</text>
<text transform="translate(299.19 46.58) scale(0.14100 0.12300)" font-family='"Liberation Serif", serif' font-size="100" font-weight="bold" font-style="normal" fill="#000">7</text>
<text transform="translate(394.84 221.9) scale(0.97 1)" font-family='"Liberation Sans", sans-serif' font-size="12.6" fill="#111">0.0</text>
<text transform="translate(394.84 185.36) scale(0.97 1)" font-family='"Liberation Sans", sans-serif' font-size="12.6" fill="#111">0.2</text>
<text transform="translate(394.84 148.82) scale(0.97 1)" font-family='"Liberation Sans", sans-serif' font-size="12.6" fill="#111">0.4</text>
<text transform="translate(394.84 112.28) scale(0.97 1)" font-family='"Liberation Sans", sans-serif' font-size="12.6" fill="#111">0.6</text>
<text transform="translate(394.84 75.74) scale(0.97 1)" font-family='"Liberation Sans", sans-serif' font-size="12.6" fill="#111">0.8</text>
<path transform="translate(394.84 39.2) scale(0.005968 -0.006152)" d="M763 0H583V1147C540 1106 484 1065 415 1024C346 983 282 952 223 930V1104C323 1151 411 1208 487 1276C563 1344 616 1409 647 1472H763Z" fill="#111"/>
<text transform="translate(401.64 39.2) scale(0.97 1)" font-family='"Liberation Sans", sans-serif' font-size="12.6" fill="#111">.0</text>
<text transform="translate(459.15 234.7) scale(0.97 1)" font-family='"Liberation Sans", sans-serif' font-size="12.6" fill="#111">0</text>
<path transform="translate(546.65 234.7) scale(0.005968 -0.006152)" d="M763 0H583V1147C540 1106 484 1065 415 1024C346 983 282 952 223 930V1104C323 1151 411 1208 487 1276C563 1344 616 1409 647 1472H763Z" fill="#111"/>
<text transform="translate(634.15 234.7) scale(0.97 1)" font-family='"Liberation Sans", sans-serif' font-size="12.6" fill="#111">2</text>
<text transform="translate(380.45 168.5) rotate(-90) scale(0.9877 1)" x="-1.34" font-family='"Liberation Sans", sans-serif' font-size="16.4" fill="#111">Probability</text>
<text transform="translate(359.95 12.6) scale(0.12047 0.18077)" font-family='"Liberation Sans", sans-serif' font-size="100" font-weight="bold" font-style="normal" fill="#000" stroke="#000" stroke-width="3.98" stroke-linejoin="round">(</text>
<text transform="translate(376.74 12.6) scale(0.12756 0.18077)" font-family='"Liberation Sans", sans-serif' font-size="100" font-weight="bold" font-style="normal" fill="#000" stroke="#000" stroke-width="3.89" stroke-linejoin="round">)</text>
<text transform="translate(365.66 12.78) scale(0.15082 0.17498)" font-family='"Liberation Sans", sans-serif' font-size="100" font-weight="bold" font-style="normal" fill="#000" stroke="#000" stroke-width="1.53" stroke-linejoin="round">b</text>
<text transform="translate(486.64 15.65) scale(0.19925 0.17084)" font-family='"Liberation Serif", serif' font-size="100" font-weight="bold" font-style="italic" fill="#0d0d0d" stroke="#0d0d0d" stroke-width="1.19" stroke-linejoin="round">n</text>
<text transform="translate(519.79 15.64) scale(0.20200 0.16149)" font-family='"Liberation Serif", serif' font-size="100" font-weight="bold" font-style="normal" fill="#0d0d0d" stroke="#0d0d0d" stroke-width="1.21" stroke-linejoin="round">3</text>
<text transform="translate(529.57 15.65) scale(0.20376 0.16646)" font-family='"Liberation Serif", serif' font-size="100" font-weight="bold" font-style="italic" fill="#0d0d0d" stroke="#0d0d0d" stroke-width="1.19" stroke-linejoin="round">k</text>
<text transform="translate(544.49 15.63) scale(0.16659 0.17257)" font-family='"Liberation Serif", serif' font-size="100" font-weight="bold" font-style="italic" fill="#0d0d0d" stroke="#0d0d0d" stroke-width="1.3" stroke-linejoin="round">o</text>
<text transform="translate(553.78 15.65) scale(0.20480 0.17084)" font-family='"Liberation Serif", serif' font-size="100" font-weight="bold" font-style="italic" fill="#0d0d0d" stroke="#0d0d0d" stroke-width="1.17" stroke-linejoin="round">r</text>
<text transform="translate(566.35 15.64) scale(0.18565 0.16149)" font-family='"Liberation Serif", serif' font-size="100" font-weight="bold" font-style="normal" fill="#0d0d0d" stroke="#0d0d0d" stroke-width="1.27" stroke-linejoin="round">3</text>
<text transform="translate(576.9 15.65) scale(0.18181 0.16646)" font-family='"Liberation Serif", serif' font-size="100" font-weight="bold" font-style="italic" fill="#0d0d0d" stroke="#0d0d0d" stroke-width="1.26" stroke-linejoin="round">k</text>
<text transform="translate(607.37 15.65) scale(0.18552 0.16765)" font-family='"Liberation Serif", serif' font-size="100" font-weight="bold" font-style="normal" fill="#0d0d0d" stroke="#0d0d0d" stroke-width="1.25" stroke-linejoin="round">2</text>
<rect x="503.2" y="8.95" width="10" height="1.05" fill="#111"/>
<rect x="503.2" y="12.2" width="10" height="1.05" fill="#111"/>
<rect x="591.85" y="10.7" width="9.85" height="1.05" fill="#111"/>
<rect x="596.1" y="6.4" width="1.1" height="9.9" fill="#111"/>
<text transform="translate(609.18 46.48) scale(0.14100 0.12300)" font-family='"Liberation Serif", serif' font-size="100" font-weight="bold" font-style="normal" fill="#000">0</text>
<text transform="translate(626.08 46.52) scale(0.14100 0.12300)" font-family='"Liberation Serif", serif' font-size="100" font-weight="bold" font-style="normal" fill="#000">2</text>
<text transform="translate(643.15 46.46) scale(0.14100 0.12300)" font-family='"Liberation Serif", serif' font-size="100" font-weight="bold" font-style="normal" fill="#000">3</text>
<text transform="translate(659.95 46.42) scale(0.14100 0.12300)" font-family='"Liberation Serif", serif' font-size="100" font-weight="bold" font-style="normal" fill="#000">5</text>
<text transform="translate(28.63 472.85) scale(1 1)" font-family='"Liberation Sans", sans-serif' font-size="12.3" fill="#111">0.0</text>
<text transform="translate(28.63 437.51) scale(1 1)" font-family='"Liberation Sans", sans-serif' font-size="12.3" fill="#111">0.2</text>
<text transform="translate(28.63 402.17) scale(1 1)" font-family='"Liberation Sans", sans-serif' font-size="12.3" fill="#111">0.4</text>
<text transform="translate(28.63 366.83) scale(1 1)" font-family='"Liberation Sans", sans-serif' font-size="12.3" fill="#111">0.6</text>
<text transform="translate(28.63 331.49) scale(1 1)" font-family='"Liberation Sans", sans-serif' font-size="12.3" fill="#111">0.8</text>
<path transform="translate(28.63 296.15) scale(0.006006 -0.006006)" d="M763 0H583V1147C540 1106 484 1065 415 1024C346 983 282 952 223 930V1104C323 1151 411 1208 487 1276C563 1344 616 1409 647 1472H763Z" fill="#111"/>
<text transform="translate(35.47 296.15) scale(1 1)" font-family='"Liberation Sans", sans-serif' font-size="12.3" fill="#111">.0</text>
<text transform="translate(93.23 485.75) scale(1 1)" font-family='"Liberation Sans", sans-serif' font-size="12.3" fill="#111">0</text>
<path transform="translate(180.73 485.75) scale(0.006006 -0.006006)" d="M763 0H583V1147C540 1106 484 1065 415 1024C346 983 282 952 223 930V1104C323 1151 411 1208 487 1276C563 1344 616 1409 647 1472H763Z" fill="#111"/>
<text transform="translate(268.23 485.75) scale(1 1)" font-family='"Liberation Sans", sans-serif' font-size="12.3" fill="#111">2</text>
<text transform="translate(14.6 415.75) rotate(-90) scale(0.9810 1)" x="-1.34" font-family='"Liberation Sans", sans-serif' font-size="16.4" fill="#111">Probability</text>
<text transform="translate(-0.75 270.95) scale(0.13110 0.17594)" font-family='"Liberation Sans", sans-serif' font-size="100" font-weight="bold" font-style="normal" fill="#000" stroke="#000" stroke-width="3.91" stroke-linejoin="round">(</text>
<text transform="translate(13.84 270.95) scale(0.14882 0.17594)" font-family='"Liberation Sans", sans-serif' font-size="100" font-weight="bold" font-style="normal" fill="#000" stroke="#000" stroke-width="3.7" stroke-linejoin="round">)</text>
<text transform="translate(5.14 272.14) scale(0.13018 0.16610)" font-family='"Liberation Sans", sans-serif' font-size="100" font-weight="bold" font-style="normal" fill="#000" stroke="#000" stroke-width="1.69" stroke-linejoin="round">c</text>
<text transform="translate(135.64 272.65) scale(0.19925 0.17084)" font-family='"Liberation Serif", serif' font-size="100" font-weight="bold" font-style="italic" fill="#0d0d0d" stroke="#0d0d0d" stroke-width="1.19" stroke-linejoin="round">n</text>
<text transform="translate(168.73 272.64) scale(0.20433 0.16327)" font-family='"Liberation Serif", serif' font-size="100" font-weight="bold" font-style="normal" fill="#0d0d0d" stroke="#0d0d0d" stroke-width="1.2" stroke-linejoin="round">5</text>
<text transform="translate(178.57 272.65) scale(0.20376 0.16646)" font-family='"Liberation Serif", serif' font-size="100" font-weight="bold" font-style="italic" fill="#0d0d0d" stroke="#0d0d0d" stroke-width="1.19" stroke-linejoin="round">k</text>
<text transform="translate(193.49 272.63) scale(0.16659 0.17257)" font-family='"Liberation Serif", serif' font-size="100" font-weight="bold" font-style="italic" fill="#0d0d0d" stroke="#0d0d0d" stroke-width="1.3" stroke-linejoin="round">o</text>
<text transform="translate(202.78 272.65) scale(0.20480 0.17084)" font-family='"Liberation Serif", serif' font-size="100" font-weight="bold" font-style="italic" fill="#0d0d0d" stroke="#0d0d0d" stroke-width="1.17" stroke-linejoin="round">r</text>
<text transform="translate(215.3 272.64) scale(0.18779 0.16327)" font-family='"Liberation Serif", serif' font-size="100" font-weight="bold" font-style="normal" fill="#0d0d0d" stroke="#0d0d0d" stroke-width="1.25" stroke-linejoin="round">5</text>
<text transform="translate(225.9 272.65) scale(0.18181 0.16646)" font-family='"Liberation Serif", serif' font-size="100" font-weight="bold" font-style="italic" fill="#0d0d0d" stroke="#0d0d0d" stroke-width="1.26" stroke-linejoin="round">k</text>
<text transform="translate(255.83 272.65) scale(0.19556 0.16814)" font-family='"Liberation Serif", serif' font-size="100" font-weight="bold" font-style="normal" fill="#0d0d0d" stroke="#0d0d0d" stroke-width="1.21" stroke-linejoin="round">1</text>
<rect x="152.2" y="265.95" width="10" height="1.05" fill="#111"/>
<rect x="152.2" y="269.2" width="10" height="1.05" fill="#111"/>
<rect x="240.85" y="267.7" width="9.85" height="1.05" fill="#111"/>
<rect x="245.1" y="263.4" width="1.1" height="9.9" fill="#111"/>
<text transform="translate(248.53 299.18) scale(0.14100 0.12300)" font-family='"Liberation Serif", serif' font-size="100" font-weight="bold" font-style="normal" fill="#000">0</text>
<text transform="translate(265.03 299.21) scale(0.14100 0.12300)" font-family='"Liberation Serif", serif' font-size="100" font-weight="bold" font-style="normal" fill="#000">1</text>
<text transform="translate(282.2 299.12) scale(0.14100 0.12300)" font-family='"Liberation Serif", serif' font-size="100" font-weight="bold" font-style="normal" fill="#000">5</text>
<text transform="translate(299.09 299.16) scale(0.14100 0.12300)" font-family='"Liberation Serif", serif' font-size="100" font-weight="bold" font-style="normal" fill="#000">6</text>
<text transform="translate(397.57 472.75) scale(0.97 1)" font-family='"Liberation Sans", sans-serif' font-size="13" fill="#111">0.0</text>
<text transform="translate(397.57 437.14) scale(0.97 1)" font-family='"Liberation Sans", sans-serif' font-size="13" fill="#111">0.2</text>
<text transform="translate(397.57 401.53) scale(0.97 1)" font-family='"Liberation Sans", sans-serif' font-size="13" fill="#111">0.4</text>
<text transform="translate(397.57 365.92) scale(0.97 1)" font-family='"Liberation Sans", sans-serif' font-size="13" fill="#111">0.6</text>
<text transform="translate(397.57 330.31) scale(0.97 1)" font-family='"Liberation Sans", sans-serif' font-size="13" fill="#111">0.8</text>
<path transform="translate(397.57 294.7) scale(0.006132 -0.006348)" d="M763 0H583V1147C540 1106 484 1065 415 1024C346 983 282 952 223 930V1104C323 1151 411 1208 487 1276C563 1344 616 1409 647 1472H763Z" fill="#111"/>
<text transform="translate(404.56 294.7) scale(0.97 1)" font-family='"Liberation Sans", sans-serif' font-size="13" fill="#111">.0</text>
<text transform="translate(461.86 485.55) scale(0.97 1)" font-family='"Liberation Sans", sans-serif' font-size="13" fill="#111">0</text>
<path transform="translate(549.36 485.55) scale(0.006132 -0.006348)" d="M763 0H583V1147C540 1106 484 1065 415 1024C346 983 282 952 223 930V1104C323 1151 411 1208 487 1276C563 1344 616 1409 647 1472H763Z" fill="#111"/>
<text transform="translate(636.86 485.55) scale(0.97 1)" font-family='"Liberation Sans", sans-serif' font-size="13" fill="#111">2</text>
<text transform="translate(380.45 419.4) rotate(-90) scale(0.9877 1)" x="-1.34" font-family='"Liberation Sans", sans-serif' font-size="16.4" fill="#111">Probability</text>
<text transform="translate(359.81 270.95) scale(0.12756 0.17594)" font-family='"Liberation Sans", sans-serif' font-size="100" font-weight="bold" font-style="normal" fill="#000" stroke="#000" stroke-width="3.95" stroke-linejoin="round">(</text>
<text transform="translate(376.44 270.95) scale(0.12756 0.17594)" font-family='"Liberation Sans", sans-serif' font-size="100" font-weight="bold" font-style="normal" fill="#000" stroke="#000" stroke-width="3.95" stroke-linejoin="round">)</text>
<text transform="translate(365.75 270.89) scale(0.14685 0.16613)" font-family='"Liberation Sans", sans-serif' font-size="100" font-weight="bold" font-style="normal" fill="#000" stroke="#000" stroke-width="1.6" stroke-linejoin="round">d</text>
<text transform="translate(503.14 272.65) scale(0.19925 0.17084)" font-family='"Liberation Serif", serif' font-size="100" font-weight="bold" font-style="italic" fill="#0d0d0d" stroke="#0d0d0d" stroke-width="1.19" stroke-linejoin="round">n</text>
<text transform="translate(536.23 272.64) scale(0.20433 0.16327)" font-family='"Liberation Serif", serif' font-size="100" font-weight="bold" font-style="normal" fill="#0d0d0d" stroke="#0d0d0d" stroke-width="1.2" stroke-linejoin="round">5</text>
<text transform="translate(546.07 272.65) scale(0.20376 0.16646)" font-family='"Liberation Serif", serif' font-size="100" font-weight="bold" font-style="italic" fill="#0d0d0d" stroke="#0d0d0d" stroke-width="1.19" stroke-linejoin="round">k</text>
<text transform="translate(560.99 272.63) scale(0.16659 0.17257)" font-family='"Liberation Serif", serif' font-size="100" font-weight="bold" font-style="italic" fill="#0d0d0d" stroke="#0d0d0d" stroke-width="1.3" stroke-linejoin="round">o</text>
<text transform="translate(570.28 272.65) scale(0.20480 0.17084)" font-family='"Liberation Serif", serif' font-size="100" font-weight="bold" font-style="italic" fill="#0d0d0d" stroke="#0d0d0d" stroke-width="1.17" stroke-linejoin="round">r</text>
<text transform="translate(582.8 272.64) scale(0.18779 0.16327)" font-family='"Liberation Serif", serif' font-size="100" font-weight="bold" font-style="normal" fill="#0d0d0d" stroke="#0d0d0d" stroke-width="1.25" stroke-linejoin="round">5</text>
<text transform="translate(593.4 272.65) scale(0.18181 0.16646)" font-family='"Liberation Serif", serif' font-size="100" font-weight="bold" font-style="italic" fill="#0d0d0d" stroke="#0d0d0d" stroke-width="1.26" stroke-linejoin="round">k</text>
<text transform="translate(623.87 272.65) scale(0.18552 0.16765)" font-family='"Liberation Serif", serif' font-size="100" font-weight="bold" font-style="normal" fill="#0d0d0d" stroke="#0d0d0d" stroke-width="1.25" stroke-linejoin="round">2</text>
<rect x="519.7" y="265.95" width="10" height="1.05" fill="#111"/>
<rect x="519.7" y="269.2" width="10" height="1.05" fill="#111"/>
<rect x="608.35" y="267.7" width="9.85" height="1.05" fill="#111"/>
<rect x="612.6" y="263.4" width="1.1" height="9.9" fill="#111"/>
<text transform="translate(609.23 299.18) scale(0.14100 0.12300)" font-family='"Liberation Serif", serif' font-size="100" font-weight="bold" font-style="normal" fill="#000">0</text>
<text transform="translate(626.13 299.22) scale(0.14100 0.12300)" font-family='"Liberation Serif", serif' font-size="100" font-weight="bold" font-style="normal" fill="#000">2</text>
<text transform="translate(643.3 299.12) scale(0.14100 0.12300)" font-family='"Liberation Serif", serif' font-size="100" font-weight="bold" font-style="normal" fill="#000">5</text>
<text transform="translate(659.79 299.18) scale(0.14100 0.12300)" font-family='"Liberation Serif", serif' font-size="100" font-weight="bold" font-style="normal" fill="#000">7</text>
</g>
</svg>
</body></html>
